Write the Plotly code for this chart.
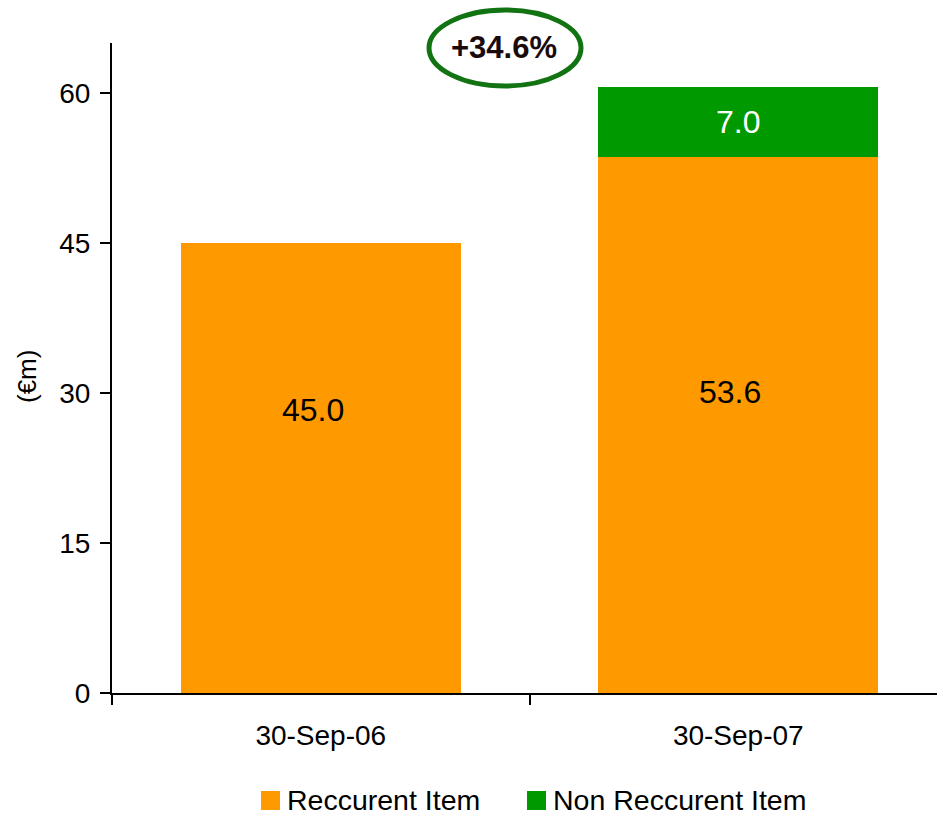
import plotly.graph_objects as go

# Data
categories = ["30-Sep-06", "30-Sep-07"]
recurrent = [45.0, 53.6]
non_recurrent = [None, 7.0]
series_names = ["Reccurent Item", "Non Reccurent Item"]
series_colors = ["#FF9900", "#009900"]
growth_label = "+34.6%"
y_ticks = [0, 15, 30, 45, 60]
# vertical placement of the value labels inside the bars (data units)
recurrent_label_y = [28.3, 30.1]

FONT = "Liberation Sans, Arial, sans-serif"
W, H = 939, 815
L, R, T, B = 112, 2, 43, 122
PW, PH = W - L - R, H - T - B


def px(x):
    return (x - L) / PW


def py(y):
    return (H - B - y) / PH


fig = go.Figure()
fig.add_trace(go.Bar(x=categories, y=recurrent, name=series_names[0],
                     marker=dict(color=series_colors[0], line=dict(width=0)),
                     showlegend=False))
fig.add_trace(go.Bar(x=categories, y=non_recurrent, name=series_names[1],
                     marker=dict(color=series_colors[1], line=dict(width=0)),
                     text=[None if v is None else f"{v:.1f}" for v in non_recurrent],
                     textposition="inside", insidetextanchor="middle",
                     textfont=dict(family=FONT, size=32, color="white"),
                     showlegend=False))

annotations = []
for c, v, ly in zip(categories, recurrent, recurrent_label_y):
    annotations.append(dict(x=c, y=ly, xref="x", yref="y", text=f"{v:.1f}",
                            showarrow=False, yanchor="middle", xshift=-8,
                            font=dict(family=FONT, size=32, color="black")))

# growth badge
annotations.append(dict(x=px(504), y=py(48), xref="paper", yref="paper",
                        text=f"<b>{growth_label}</b>", showarrow=False,
                        xanchor="center", yanchor="middle",
                        font=dict(family=FONT, size=31, color="#1A0A0A")))

# y-axis title
annotations.append(dict(x=px(27), y=py(377), xref="paper", yref="paper",
                        text="(€m)", textangle=-90, showarrow=False,
                        xanchor="center", yanchor="middle",
                        font=dict(family=FONT, size=26, color="black")))

shapes = [dict(type="circle", xref="paper", yref="paper",
               x0=px(429), x1=px(581), y0=py(86), y1=py(10),
               line=dict(color="#127312", width=5))]

# legend drawn as swatches + labels
legend_x = [261, 527]
for name, color, lx in zip(series_names, series_colors, legend_x):
    shapes.append(dict(type="rect", xref="paper", yref="paper",
                       x0=px(lx), x1=px(lx + 19), y0=py(810), y1=py(791),
                       fillcolor=color, line=dict(width=0)))
    annotations.append(dict(x=px(lx + 24), y=py(800), xref="paper", yref="paper",
                            text=name, showarrow=False, xanchor="left",
                            yanchor="middle",
                            font=dict(family=FONT, size=28.5, color="black")))

fig.update_layout(
    width=W, height=H,
    margin=dict(l=L, r=R, t=T, b=B),
    barmode="stack", bargap=0.33,
    plot_bgcolor="white", paper_bgcolor="white",
    font=dict(family=FONT, size=28, color="black"),
    annotations=annotations, shapes=shapes,
    xaxis=dict(range=[-0.5, 1.476], showline=True, linecolor="black",
               linewidth=2, ticks="outside", tickson="boundaries", ticklen=10,
               tickwidth=1.5, tickcolor="black", showgrid=False,
               ticklabelstandoff=16,
               tickfont=dict(family=FONT, size=28, color="black")),
    yaxis=dict(range=[0, 65], tickvals=y_ticks, showline=True,
               linecolor="black", linewidth=2, ticks="outside", ticklen=10,
               tickwidth=1.5, tickcolor="black", showgrid=False,
               zeroline=False, ticklabelstandoff=4,
               tickfont=dict(family=FONT, size=28, color="black")),
)

fig.write_html("out.html")
